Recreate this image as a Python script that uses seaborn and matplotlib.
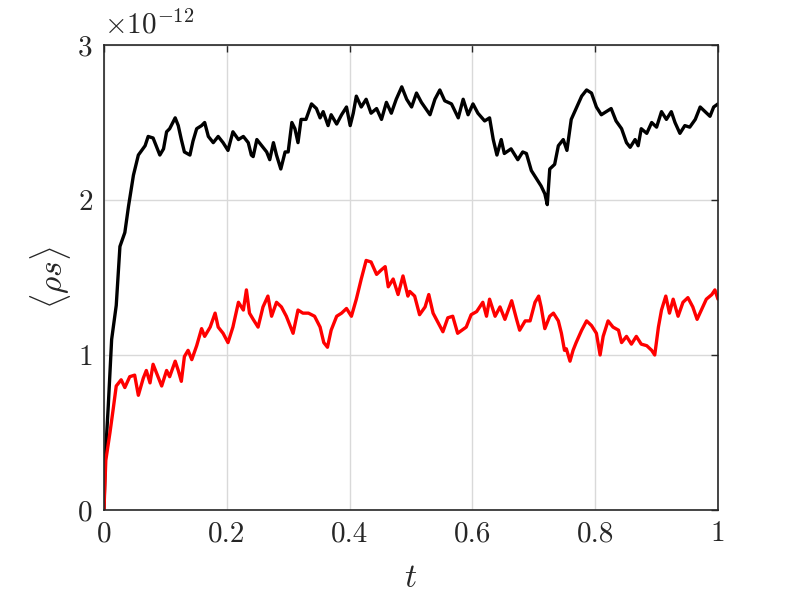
import numpy as np
import pandas as pd
import matplotlib
matplotlib.use('Agg')
import matplotlib.pyplot as plt
import seaborn as sns

# valeurs (unites de 1e-12)
t_black = [0.0, 0.002, 0.007, 0.0125, 0.020, 0.026, 0.034, 0.040, 0.048, 0.056,
           0.067, 0.072, 0.080, 0.085, 0.091, 0.097, 0.102, 0.107, 0.116, 0.121,
           0.126, 0.131, 0.140, 0.145, 0.151, 0.159, 0.164, 0.170, 0.178, 0.186,
           0.194, 0.202, 0.210, 0.219, 0.227, 0.235, 0.240, 0.243, 0.249, 0.257,
           0.265, 0.270, 0.276, 0.281, 0.288, 0.295, 0.300, 0.306, 0.311, 0.316,
           0.321, 0.329, 0.338, 0.346, 0.352, 0.357, 0.365, 0.370, 0.379, 0.387,
           0.395, 0.401, 0.406, 0.411, 0.419, 0.427, 0.435, 0.444, 0.452, 0.460,
           0.468, 0.476, 0.485, 0.493, 0.501, 0.509, 0.517, 0.531, 0.539, 0.547,
           0.555, 0.566, 0.577, 0.585, 0.593, 0.601, 0.609, 0.620, 0.628, 0.634,
           0.640, 0.647, 0.652, 0.663, 0.674, 0.682, 0.688, 0.696, 0.704, 0.712,
           0.718, 0.722, 0.726, 0.734, 0.740, 0.748, 0.754, 0.761, 0.769, 0.778,
           0.786, 0.794, 0.802, 0.810, 0.818, 0.826, 0.834, 0.843, 0.851, 0.857,
           0.865, 0.870, 0.875, 0.884, 0.892, 0.900, 0.908, 0.916, 0.924, 0.930,
           0.938, 0.946, 0.954, 0.963, 0.971, 0.979, 0.987, 0.993, 1.0]
rho_black = [0.0, 0.32, 0.67, 1.10, 1.32, 1.70, 1.79, 1.96, 2.16, 2.29,
             2.35, 2.41, 2.40, 2.35, 2.29, 2.33, 2.44, 2.46, 2.53, 2.48,
             2.39, 2.31, 2.29, 2.38, 2.46, 2.48, 2.50, 2.41, 2.37, 2.41,
             2.37, 2.32, 2.44, 2.39, 2.41, 2.37, 2.29, 2.28, 2.39, 2.35,
             2.31, 2.26, 2.37, 2.29, 2.20, 2.31, 2.31, 2.50, 2.46, 2.37,
             2.52, 2.52, 2.62, 2.59, 2.53, 2.57, 2.48, 2.55, 2.49, 2.55,
             2.60, 2.48, 2.56, 2.67, 2.60, 2.65, 2.56, 2.59, 2.52, 2.63,
             2.56, 2.65, 2.73, 2.65, 2.60, 2.69, 2.63, 2.55, 2.65, 2.71,
             2.64, 2.62, 2.53, 2.65, 2.55, 2.62, 2.56, 2.51, 2.53, 2.39,
             2.29, 2.39, 2.30, 2.33, 2.26, 2.31, 2.30, 2.19, 2.14, 2.09,
             2.04, 1.97, 2.20, 2.23, 2.35, 2.39, 2.32, 2.52, 2.59, 2.67,
             2.71, 2.69, 2.60, 2.55, 2.57, 2.59, 2.51, 2.46, 2.37, 2.34,
             2.39, 2.35, 2.46, 2.43, 2.50, 2.47, 2.57, 2.52, 2.57, 2.50,
             2.43, 2.48, 2.47, 2.52, 2.60, 2.57, 2.54, 2.60, 2.62]

t_red = [0.0, 0.003, 0.0098, 0.015, 0.020, 0.028, 0.034, 0.042, 0.050, 0.056,
         0.064, 0.069, 0.075, 0.080, 0.085, 0.094, 0.102, 0.107, 0.116, 0.121,
         0.126, 0.131, 0.137, 0.143, 0.151, 0.159, 0.164, 0.173, 0.181, 0.186,
         0.194, 0.202, 0.210, 0.219, 0.227, 0.232, 0.237, 0.243, 0.251, 0.259,
         0.267, 0.273, 0.281, 0.289, 0.297, 0.308, 0.316, 0.324, 0.333, 0.343,
         0.352, 0.358, 0.364, 0.370, 0.379, 0.387, 0.395, 0.403, 0.411, 0.419,
         0.427, 0.435, 0.444, 0.452, 0.458, 0.463, 0.471, 0.479, 0.487, 0.495,
         0.498, 0.506, 0.514, 0.523, 0.529, 0.536, 0.544, 0.552, 0.560, 0.568,
         0.576, 0.590, 0.598, 0.607, 0.617, 0.623, 0.628, 0.637, 0.645, 0.653,
         0.664, 0.672, 0.677, 0.686, 0.694, 0.702, 0.708, 0.712, 0.718, 0.726,
         0.732, 0.740, 0.745, 0.750, 0.753, 0.759, 0.764, 0.769, 0.778, 0.786,
         0.794, 0.802, 0.808, 0.813, 0.821, 0.829, 0.838, 0.843, 0.851, 0.859,
         0.867, 0.875, 0.884, 0.892, 0.897, 0.903, 0.908, 0.915, 0.921, 0.927,
         0.935, 0.943, 0.951, 0.959, 0.966, 0.973, 0.981, 0.990, 0.995, 1.0]
rho_red = [0.0, 0.32, 0.50, 0.65, 0.80, 0.84, 0.79, 0.86, 0.87, 0.74,
           0.85, 0.90, 0.82, 0.94, 0.89, 0.80, 0.90, 0.86, 0.96, 0.90,
           0.83, 0.99, 1.03, 0.97, 1.06, 1.17, 1.12, 1.18, 1.27, 1.18,
           1.14, 1.08, 1.18, 1.34, 1.29, 1.42, 1.27, 1.23, 1.18, 1.31,
           1.38, 1.25, 1.34, 1.31, 1.25, 1.14, 1.29, 1.27, 1.27, 1.25,
           1.18, 1.08, 1.05, 1.16, 1.25, 1.27, 1.30, 1.25, 1.36, 1.49,
           1.61, 1.60, 1.52, 1.55, 1.57, 1.44, 1.49, 1.39, 1.51, 1.38,
           1.41, 1.38, 1.26, 1.31, 1.39, 1.27, 1.21, 1.15, 1.24, 1.25,
           1.14, 1.18, 1.26, 1.28, 1.34, 1.25, 1.36, 1.25, 1.31, 1.23,
           1.35, 1.23, 1.16, 1.22, 1.22, 1.34, 1.38, 1.31, 1.17, 1.25,
           1.27, 1.22, 1.14, 1.03, 1.04, 0.96, 1.03, 1.08, 1.16, 1.22,
           1.19, 1.14, 1.00, 1.12, 1.22, 1.18, 1.16, 1.08, 1.12, 1.07,
           1.12, 1.07, 1.06, 1.03, 1.00, 1.18, 1.29, 1.38, 1.27, 1.36,
           1.25, 1.34, 1.37, 1.31, 1.23, 1.29, 1.36, 1.39, 1.42, 1.36]

x_ticks = [0, 0.2, 0.4, 0.6, 0.8, 1]
x_ticklabels = ['0', '0.2', '0.4', '0.6', '0.8', '1']
y_ticks = [0, 1, 2, 3]
y_ticklabels = ['0', '1', '2', '3']

df_black = pd.DataFrame({'t': t_black, 'rho': rho_black})
df_red = pd.DataFrame({'t': t_red, 'rho': rho_red})

sns.set_style('white')
plt.rcParams['font.family'] = 'serif'
plt.rcParams['font.serif'] = ['cmr10', 'DejaVu Serif']
plt.rcParams['mathtext.fontset'] = 'cm'
plt.rcParams['axes.unicode_minus'] = False

fig = plt.figure(figsize=(7.93, 6.09), dpi=100)
ax = fig.add_axes([0.1311, 0.1626, 0.7743, 0.7635])

sns.lineplot(data=df_black, x='t', y='rho', color='black', linewidth=2.4, ax=ax)
sns.lineplot(data=df_red, x='t', y='rho', color='red', linewidth=2.4, ax=ax)

ax.set_xlim(0, 1)
ax.set_ylim(0, 3)
ax.set_xticks(x_ticks)
ax.set_xticklabels(x_ticklabels)
ax.set_yticks(y_ticks)
ax.set_yticklabels(y_ticklabels)
ax.grid(True, color='#d9d9d9', linewidth=1.0)
ax.set_axisbelow(True)
for s in ax.spines.values():
    s.set_visible(True)
    s.set_color('#262626')
    s.set_linewidth(1.2)
ax.tick_params(direction='in', length=5, width=1.0, top=True, right=True,
               labelsize=21, colors='#262626', pad=8)

ax.set_xlabel(r'$t$', fontsize=24, color='#262626', labelpad=12)
ax.set_ylabel(r'$\langle \rho s \rangle$', fontsize=24, color='#262626')
ax.text(0.0, 1.012, r'$\times 10^{-12}$', transform=ax.transAxes,
        fontsize=21, color='#262626', ha='left', va='bottom')

fig.savefig('out.png', dpi=100)
